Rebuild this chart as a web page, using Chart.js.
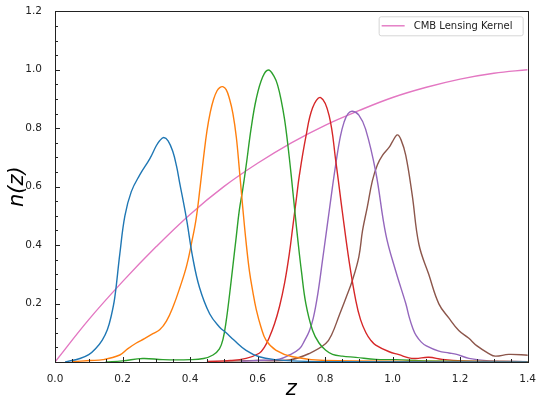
<!DOCTYPE html>
<html>
<head>
<meta charset="utf-8">
<script src="https://cdn.jsdelivr.net/npm/chart.js@4.4.0/dist/chart.umd.min.js"></script>
<style>
  html, body { margin: 0; padding: 0; background: #fff; }
  #wrap { width: 539px; height: 400px; }
</style>
</head>
<body>
<div id="wrap"><canvas id="nzChart"></canvas></div>
<script>
// redshift bins
const z1 = [0.03, 0.074, 0.1, 0.12, 0.14, 0.155, 0.167, 0.177, 0.192, 0.207, 0.226, 0.251, 0.281, 0.30, 0.31, 0.322, 0.335, 0.349, 0.36, 0.369, 0.389, 0.408, 0.428, 0.458, 0.487, 0.507, 0.53, 0.566, 0.605, 0.654, 0.72, 0.85, 1.4];
const n1 = [0, 0.012, 0.025, 0.045, 0.075, 0.11, 0.16, 0.22, 0.37, 0.50, 0.583, 0.64, 0.696, 0.74, 0.757, 0.768, 0.757, 0.72, 0.67, 0.615, 0.493, 0.357, 0.255, 0.165, 0.12, 0.1, 0.075, 0.04, 0.018, 0.008, 0.003, 0.001, 0];

const z2 = [0.05, 0.103, 0.142, 0.192, 0.215, 0.241, 0.265, 0.29, 0.31, 0.33, 0.35, 0.37, 0.39, 0.405, 0.418, 0.43, 0.44, 0.45, 0.46, 0.47, 0.48, 0.488, 0.497, 0.507, 0.517, 0.527, 0.537, 0.546, 0.556, 0.566, 0.576, 0.586, 0.596, 0.61, 0.625, 0.655, 0.704, 0.8, 1.4];
const n2 = [0.001, 0.005, 0.008, 0.024, 0.045, 0.065, 0.08, 0.097, 0.11, 0.14, 0.19, 0.255, 0.33, 0.41, 0.49, 0.60, 0.70, 0.79, 0.855, 0.90, 0.928, 0.939, 0.942, 0.932, 0.90, 0.85, 0.77, 0.66, 0.53, 0.41, 0.31, 0.24, 0.18, 0.12, 0.075, 0.04, 0.018, 0.005, 0.001];

const z3 = [0.15, 0.2, 0.26, 0.32, 0.4, 0.44, 0.468, 0.487, 0.498, 0.507, 0.517, 0.527, 0.537, 0.546, 0.556, 0.566, 0.581, 0.596, 0.615, 0.632, 0.65, 0.66, 0.67, 0.68, 0.69, 0.70, 0.71, 0.72, 0.73, 0.743, 0.763, 0.782, 0.802, 0.822, 0.851, 0.891, 0.95, 1.01, 1.1, 1.4];
const n3 = [0, 0.004, 0.012, 0.008, 0.008, 0.012, 0.024, 0.045, 0.08, 0.14, 0.23, 0.33, 0.43, 0.52, 0.59, 0.67, 0.80, 0.90, 0.975, 0.999, 0.975, 0.945, 0.895, 0.83, 0.74, 0.635, 0.52, 0.41, 0.31, 0.20, 0.108, 0.065, 0.04, 0.026, 0.02, 0.016, 0.009, 0.008, 0.004, 0.001];

const z4 = [0.45, 0.52, 0.566, 0.605, 0.62, 0.635, 0.65, 0.665, 0.68, 0.694, 0.704, 0.714, 0.724, 0.743, 0.763, 0.787, 0.812, 0.832, 0.851, 0.871, 0.891, 0.905, 0.921, 0.935, 0.95, 0.99, 1.019, 1.048, 1.068, 1.107, 1.147, 1.206, 1.4];
const n4 = [0.002, 0.005, 0.0125, 0.03, 0.05, 0.085, 0.13, 0.19, 0.27, 0.37, 0.46, 0.55, 0.64, 0.77, 0.87, 0.905, 0.843, 0.685, 0.515, 0.346, 0.21, 0.145, 0.1, 0.075, 0.058, 0.035, 0.025, 0.014, 0.012, 0.016, 0.009, 0.004, 0.001];

const z5 = [0.55, 0.62, 0.664, 0.694, 0.724, 0.74, 0.753, 0.765, 0.778, 0.792, 0.802, 0.812, 0.822, 0.832, 0.845, 0.856, 0.868, 0.881, 0.9, 0.92, 0.95, 0.98, 1.009, 1.039, 1.05, 1.06, 1.07, 1.085, 1.1, 1.137, 1.167, 1.19, 1.226, 1.285, 1.4];
const n5 = [0.003, 0.006, 0.01, 0.024, 0.045, 0.075, 0.105, 0.15, 0.23, 0.345, 0.43, 0.515, 0.60, 0.68, 0.77, 0.82, 0.85, 0.858, 0.845, 0.797, 0.651, 0.436, 0.312, 0.20, 0.15, 0.115, 0.09, 0.068, 0.055, 0.037, 0.031, 0.026, 0.0125, 0.004, 0.001];

const z6 = [0.5, 0.6, 0.694, 0.753, 0.802, 0.82, 0.842, 0.862, 0.881, 0.9, 0.911, 0.925, 0.94, 0.955, 0.97, 0.99, 1.0, 1.014, 1.025, 1.039, 1.058, 1.078, 1.107, 1.137, 1.167, 1.196, 1.225, 1.25, 1.285, 1.304, 1.344, 1.403];
const n6 = [0.003, 0.005, 0.007, 0.029, 0.063, 0.095, 0.16, 0.22, 0.28, 0.36, 0.45, 0.53, 0.62, 0.675, 0.707, 0.735, 0.755, 0.777, 0.76, 0.707, 0.572, 0.402, 0.30, 0.199, 0.15, 0.108, 0.082, 0.055, 0.029, 0.02, 0.026, 0.023];

// CMB lensing kernel
const zK = [0, 0.1, 0.2, 0.3, 0.4, 0.5, 0.6, 0.7, 0.8, 0.9, 1.0, 1.1, 1.2, 1.3, 1.4];
const nK = [0, 0.145, 0.275, 0.395, 0.505, 0.60, 0.68, 0.75, 0.81, 0.86, 0.905, 0.94, 0.968, 0.988, 1.0];

const xTicks = [0, 0.2, 0.4, 0.6, 0.8, 1.0, 1.2, 1.4];
const yTicks = [0.2, 0.4, 0.6, 0.8, 1.0, 1.2];

const colors = ['#1f77b4', '#ff7f0e', '#2ca02c', '#d62728', '#9467bd', '#8c564b'];
const kernelColor = '#e377c2';
const tickFont = { family: 'DejaVu Sans', size: 10.5 };

function pts(zs, ns) {
    return zs.map((z, i) => ({ x: z, y: ns[i] }));
}

const bins = [[z1, n1], [z2, n2], [z3, n3], [z4, n4], [z5, n5], [z6, n6]];
const datasets = bins.map((b, i) => ({
    label: 'bin ' + (i + 1),
    data: pts(b[0], b[1]),
    borderColor: colors[i],
    borderWidth: 1.4,
    pointRadius: 0,
    tension: 0.4,
    fill: false
}));
datasets.push({
    label: 'CMB Lensing Kernel',
    data: pts(zK, nK),
    borderColor: kernelColor,
    borderWidth: 1.4,
    pointRadius: 0,
    tension: 0.4,
    fill: false
});

// inward major/minor ticks, frame and legend box
const mplAxes = {
    id: 'mplAxes',
    afterDraw(chart) {
        const { ctx, chartArea: a, scales } = chart;
        ctx.save();
        ctx.strokeStyle = '#222';
        ctx.lineWidth = 1;
        ctx.beginPath();
        for (let k = 0; k <= 24; k++) {
            const y = Math.round(scales.y.getPixelForValue(k * 0.05)) + 0.5;
            const len = k % 4 === 0 ? 5 : 3;
            ctx.moveTo(a.left, y);
            ctx.lineTo(a.left + len, y);
        }
        for (let k = 0; k <= 28; k++) {
            const x = Math.round(scales.x.getPixelForValue(k * 0.05)) + 0.5;
            const len = k % 4 === 0 ? 5 : 3;
            ctx.moveTo(x, a.bottom);
            ctx.lineTo(x, a.bottom - len);
        }
        ctx.stroke();
        ctx.strokeRect(Math.round(a.left) + 0.5, Math.round(a.top) + 0.5,
            Math.round(a.right - a.left), Math.round(a.bottom - a.top));

        // legend (kernel only)
        const bx = a.right - 149, by = a.top + 5, bw = 144, bh = 19;
        ctx.strokeStyle = '#d6d6d6';
        ctx.fillStyle = 'rgba(255,255,255,0.8)';
        ctx.beginPath();
        ctx.roundRect(bx + 0.5, by + 0.5, bw, bh, 2);
        ctx.fill();
        ctx.stroke();
        ctx.strokeStyle = kernelColor;
        ctx.lineWidth = 1.4;
        ctx.beginPath();
        ctx.moveTo(bx + 3, by + 9.5);
        ctx.lineTo(bx + 26, by + 9.5);
        ctx.stroke();
        ctx.fillStyle = '#222';
        ctx.font = '10px "DejaVu Sans"';
        ctx.textBaseline = 'middle';
        ctx.fillText(datasets[6].label, bx + 35, by + 10);
        ctx.restore();
    }
};

new Chart(document.getElementById('nzChart'), {
    type: 'line',
    data: { datasets: datasets },
    options: {
        responsive: true,
        maintainAspectRatio: false,
        animation: false,
        layout: { padding: { top: 8, right: 10, left: 0, bottom: 0 } },
        plugins: {
            legend: { display: false },
            tooltip: { enabled: false }
        },
        scales: {
            x: {
                type: 'linear',
                min: 0,
                max: 1.4,
                grid: { display: false },
                border: { display: false },
                afterBuildTicks: (scale) => { scale.ticks = xTicks.map(v => ({ value: v })); },
                afterFit: (scale) => { scale.height = 38; },
                ticks: {
                    color: '#222',
                    font: tickFont,
                    padding: 3,
                    maxRotation: 0,
                    callback: (v) => Number(v).toFixed(1)
                },
                title: {
                    display: true,
                    text: 'z',
                    color: '#000',
                    font: { family: 'DejaVu Sans', size: 21, style: 'italic' },
                    padding: { top: 0, bottom: -2 }
                }
            },
            y: {
                type: 'linear',
                min: 0,
                max: 1.2,
                grid: { display: false },
                border: { display: false },
                afterBuildTicks: (scale) => { scale.ticks = yTicks.map(v => ({ value: v })); },
                afterFit: (scale) => { scale.width = 55; },
                ticks: {
                    color: '#222',
                    font: tickFont,
                    padding: 5,
                    callback: (v) => Number(v).toFixed(1)
                },
                title: {
                    display: true,
                    text: 'n(z)',
                    color: '#000',
                    font: { family: 'DejaVu Sans', size: 21, style: 'italic' },
                    padding: { top: 5, bottom: 0 }
                }
            }
        }
    },
    plugins: [mplAxes]
});
</script>
</body>
</html>
